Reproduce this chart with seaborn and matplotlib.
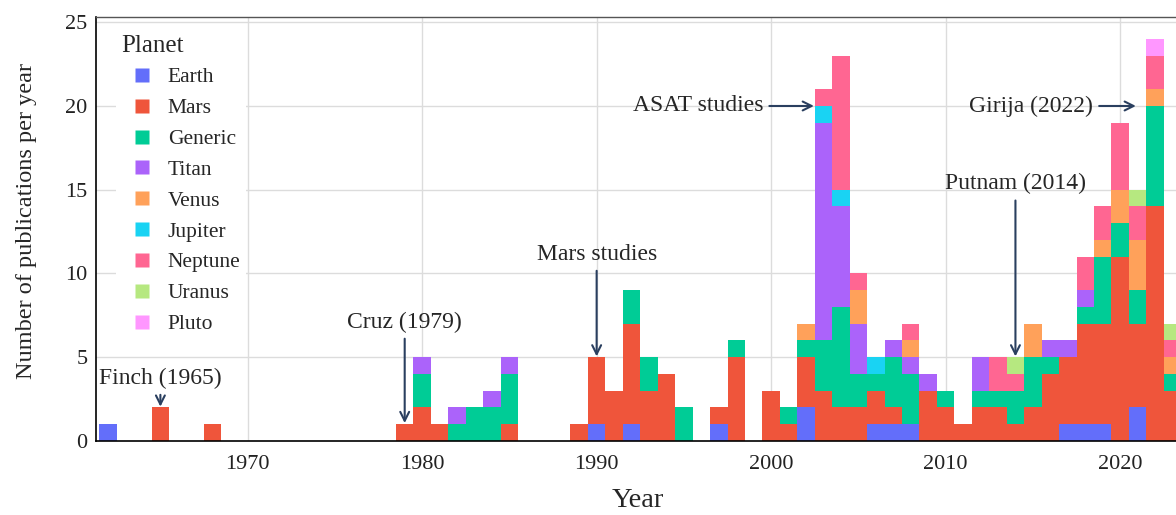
import pandas as pd
import matplotlib.pyplot as plt
import seaborn as sns
from matplotlib.lines import Line2D

# ===============================
# DATA: publications per year, by planet
# ===============================
PLANETS = ["Earth", "Mars", "Generic", "Titan", "Venus",
           "Jupiter", "Neptune", "Uranus", "Pluto"]
COLORS = ["#636EFA", "#EF553B", "#00CC96", "#AB63FA", "#FFA15A",
          "#19D3F3", "#FF6692", "#B6E880", "#FF97FF"]

EARTH = {1962: 1, 1990: 1, 1992: 1, 1997: 1, 2002: 2, 2006: 1, 2007: 1,
         2008: 1, 2017: 1, 2018: 1, 2019: 1, 2021: 2}
MARS = {1965: 2, 1968: 1, 1979: 1, 1980: 2, 1981: 1, 1985: 1, 1989: 1,
        1990: 4, 1991: 3, 1992: 6, 1993: 3, 1994: 4, 1997: 1, 1998: 5,
        2000: 3, 2001: 1, 2002: 3, 2003: 3, 2004: 2, 2005: 2, 2006: 2,
        2007: 1, 2009: 3, 2010: 2, 2011: 1, 2012: 2, 2013: 2, 2014: 1,
        2015: 2, 2016: 4, 2017: 4, 2018: 6, 2019: 6, 2020: 11, 2021: 5,
        2022: 14, 2023: 3}
GENERIC = {1980: 2, 1982: 1, 1983: 2, 1984: 2, 1985: 3, 1992: 2, 1993: 2,
           1995: 2, 1998: 1, 2001: 1, 2002: 1, 2003: 3, 2004: 6, 2005: 2,
           2006: 1, 2007: 3, 2008: 3, 2010: 1, 2012: 1, 2013: 1, 2014: 2,
           2015: 3, 2016: 1, 2018: 1, 2019: 4, 2020: 2, 2021: 2, 2022: 6,
           2023: 1}
TITAN = {1980: 1, 1982: 1, 1984: 1, 1985: 1, 2003: 13, 2004: 6, 2005: 3,
         2007: 1, 2008: 1, 2009: 1, 2012: 2, 2016: 1, 2017: 1, 2018: 1}
VENUS = {2002: 1, 2005: 2, 2008: 1, 2015: 2, 2019: 1, 2020: 2, 2021: 3,
         2022: 1, 2023: 1}
JUPITER = {2003: 1, 2004: 1, 2006: 1}
NEPTUNE = {2003: 1, 2004: 8, 2005: 1, 2008: 1, 2013: 2, 2014: 1, 2018: 2,
           2019: 2, 2020: 4, 2021: 2, 2022: 2, 2023: 1}
URANUS = {2014: 1, 2021: 1, 2023: 1}
PLUTO = {2022: 1}

YEAR_TICKS = [1970, 1980, 1990, 2000, 2010, 2020]
COUNT_TICKS = [0, 5, 10, 15, 20, 25]

rows = []
for planet, counts in zip(PLANETS, [EARTH, MARS, GENERIC, TITAN, VENUS,
                                    JUPITER, NEPTUNE, URANUS, PLUTO]):
    for year, n in counts.items():
        rows.append({"Year": year, "Planet": planet, "n": n})
df = pd.DataFrame(rows)

# ===============================
# PLOT
# ===============================
sns.set_style("whitegrid")
plt.rcParams["font.family"] = ["Liberation Serif", "DejaVu Serif"]
ARROW = "#2a3f5f"

fig = plt.figure(figsize=(11.76, 5.15), dpi=100)
ax = fig.add_axes([96 / 1176, 74 / 515, (1180 - 96) / 1176, (441 - 16.7) / 515])

# seaborn stacks the first hue level on top, so feed it reversed
sns.histplot(data=df, x="Year", hue="Planet", weights="n",
             multiple="stack", discrete=True,
             hue_order=PLANETS[::-1], palette=dict(zip(PLANETS, COLORS)),
             alpha=1, linewidth=0, legend=False, ax=ax)

ax.set_xlim(1961.31, 2023.43)
ax.set_ylim(0, 25.33)
ax.set_xticks(YEAR_TICKS)
ax.set_yticks(COUNT_TICKS)
ax.grid(True, color="#dcdcdc", lw=1)
ax.set_axisbelow(True)
for side in ["left", "bottom"]:
    ax.spines[side].set_color("black")
    ax.spines[side].set_linewidth(1.2)
ax.spines["top"].set_color("#555555")
ax.spines["top"].set_linewidth(1.0)
ax.spines["right"].set_visible(False)
ax.tick_params(axis="both", direction="in", length=5, color="#444444",
               labelsize=16, labelcolor="#222222")
ax.tick_params(axis="x", pad=10)
ax.tick_params(axis="y", pad=6)
ax.set_xlabel("Year", fontsize=20.5, labelpad=10)
ax.set_ylabel("Number of publications per year", fontsize=17.5)
ax.yaxis.set_label_coords(-0.054, 0.518)

# annotations
arrow = dict(arrowstyle="->", color=ARROW, lw=1.5, shrinkA=2, shrinkB=0,
             mutation_scale=16)
ax.annotate("Finch (1965)", xy=(1965, 2.05), xytext=(1965, 3.75),
            ha="center", va="center", fontsize=17, arrowprops=arrow)
ax.annotate("Cruz (1979)", xy=(1979, 1.07), xytext=(1979, 7.1),
            ha="center", va="center", fontsize=17, arrowprops=arrow)
ax.annotate("Mars studies", xy=(1990, 5.05), xytext=(1990, 11.15),
            ha="center", va="center", fontsize=17, arrowprops=arrow)
ax.annotate("Putnam (2014)", xy=(2014, 5.05), xytext=(2014, 15.35),
            ha="center", va="center", fontsize=17, arrowprops=arrow)
ax.annotate("ASAT studies", xy=(2002.45, 20), xytext=(1999.55, 20),
            ha="right", va="center", fontsize=17, arrowprops=arrow)
ax.annotate("Girija (2022)", xy=(2020.9, 20), xytext=(2018.45, 20),
            ha="right", va="center", fontsize=17, arrowprops=arrow)

# legend in the original planet order, square swatches set in from the title
handles = [Line2D([], [], marker="s", markersize=10, linestyle="none",
                  markerfacecolor=c, markeredgecolor="none", label=p)
           for p, c in zip(PLANETS, COLORS)]
leg = ax.legend(handles=handles, title="Planet", loc="upper left",
                bbox_to_anchor=(0.0185, 0.9705), borderaxespad=0,
                borderpad=0.25,
                frameon=True, facecolor="white", edgecolor="none",
                framealpha=1, fontsize=15.5, title_fontsize=18,
                handlelength=1.9, handletextpad=0.25,
                labelspacing=0.5, alignment="left")

plt.savefig("out.png", dpi=100)
plt.close()
